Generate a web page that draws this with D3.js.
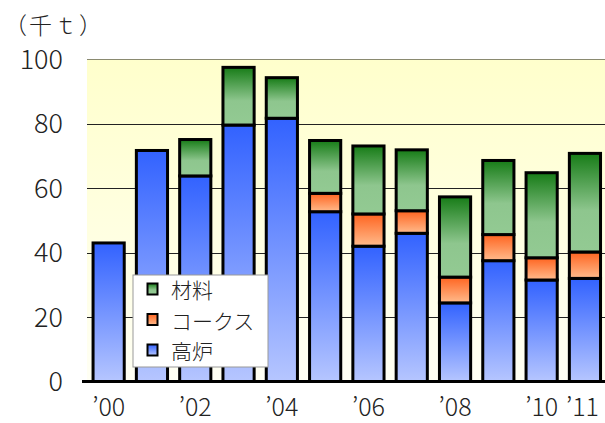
<!DOCTYPE html>
<html>
<head>
<meta charset="utf-8">
<script src="https://cdn.jsdelivr.net/npm/d3@7"></script>
<style>
  html, body { margin: 0; padding: 0; background: #fff; }
  svg { display: block; font-family: "Noto Sans CJK JP", "Noto Sans", sans-serif; font-weight: 300; }
</style>
</head>
<body>
<svg id="chart" width="605" height="423"></svg>
<script>
// Production by use, thousand tonnes
const years = ["2000","2001","2002","2003","2004","2005","2006","2007","2008","2009","2010","2011"];
const blastFurnace = [43, 71.7, 63.8, 79.6, 81.7, 52.7, 42, 46, 24.4, 37.5, 31.5, 32];   // 高炉
const coke         = [0, 0, 0, 0, 0, 5.7, 10, 7, 8, 8.1, 6.9, 8.2];                    // コークス
const material     = [0, 0, 11.3, 17.9, 12.6, 16.4, 21.1, 18.9, 24.9, 23, 26.4, 30.6]; // 材料
const xTickLabels  = ["’00","’02","’04","’06","’08","’10","’11"];
const xTickYears   = ["2000","2002","2004","2006","2008","2010","2011"];
const yTicks       = [0, 20, 40, 60, 80, 100];
const seriesNames  = ["材料", "コークス", "高炉"];

const svg = d3.select("#chart");
const W = 605;
const plotLeft = 87, plotRight = 606.6, plotTop = 59.3, plotBottom = 381.5;

const x = d3.scaleBand().domain(years).range([plotLeft, plotRight]).paddingInner(0.28).paddingOuter(0.14);
const y = d3.scaleLinear().domain([0, 100]).range([plotBottom, plotTop]);

const defs = svg.append("defs");
function vGrad(id, stops) {
  const g = defs.append("linearGradient").attr("id", id)
    .attr("x1", 0).attr("y1", 0).attr("x2", 0).attr("y2", 1);
  stops.forEach(([o, c]) => g.append("stop").attr("offset", o).attr("stop-color", c));
}
vGrad("bg", [[0, "#ffffcc"], [1, "#fffff4"]]);
vGrad("gBlue", [[0, "#3262ff"], [1, "#b6c6ff"]]);
vGrad("gOrange", [[0, "#ff6420"], [1, "#ffbb8c"]]);
vGrad("gGreen", [[0, "#177c17"], [0.58, "#8ec68e"], [1, "#93ca93"]]);

// plot background
svg.append("rect").attr("x", plotLeft).attr("y", plotTop)
  .attr("width", W - plotLeft).attr("height", plotBottom - plotTop).attr("fill", "url(#bg)");

// gridlines
svg.append("g").selectAll("line").data(yTicks.filter(d => d > 0)).join("line")
  .attr("x1", plotLeft).attr("x2", W)
  .attr("y1", d => Math.round(y(d)) + 0.5).attr("y2", d => Math.round(y(d)) + 0.5)
  .attr("stroke", d => d === 100 ? "#8a8a70" : "#222").attr("stroke-width", 1.2);

// y labels
svg.append("g").selectAll("text").data(yTicks).join("text")
  .attr("x", 63).attr("y", d => y(d) - 2)
  .attr("text-anchor", "end").attr("dominant-baseline", "central")
  .attr("font-size", 27).attr("fill", "#222")
  .text(d => d);

// unit label
svg.append("text").attr("x", 4).attr("y", 34).attr("font-size", 23)
  .attr("letter-spacing", 2).attr("fill", "#222")
  .text("（千ｔ）");

// stacked segments
const rows = years.map((yr, i) => ({ year: yr, blast: blastFurnace[i], coke: coke[i], material: material[i] }));
const keys = ["blast", "coke", "material"];
const fills = { blast: "url(#gBlue)", coke: "url(#gOrange)", material: "url(#gGreen)" };
const stacked = d3.stack().keys(keys)(rows);

const barG = svg.append("g");
stacked.forEach(layer => {
  barG.append("g").selectAll("rect")
    .data(layer.filter(d => d[1] - d[0] > 0))
    .join("rect")
    .attr("x", d => x(d.data.year))
    .attr("width", x.bandwidth())
    .attr("y", d => y(d[1]))
    .attr("height", d => y(d[0]) - y(d[1]))
    .attr("fill", fills[layer.key])
    .attr("stroke", "#000").attr("stroke-width", 3);
});

// baseline
svg.append("line").attr("x1", 82).attr("x2", W)
  .attr("y1", plotBottom).attr("y2", plotBottom)
  .attr("stroke", "#000").attr("stroke-width", 3);

// x labels, centred under their bars but kept inside the right edge
svg.append("g").selectAll("text").data(xTickYears).join("text")
  .attr("y", 416)
  .attr("text-anchor", "middle").attr("font-size", 25).attr("fill", "#222")
  .text((d, i) => xTickLabels[i])
  .attr("x", function (d) {
    const cx = x(d) + x.bandwidth() / 2;
    const half = this.getComputedTextLength() / 2;
    return Math.min(cx, W - 6 - half);
  });

// legend
const lg = svg.append("g").attr("transform", "translate(133,275)");
lg.append("rect").attr("x", 0).attr("y", 0).attr("width", 135).attr("height", 92)
  .attr("fill", "#fff").attr("stroke", "#999").attr("stroke-width", 1);
const legFills = ["url(#gGreen)", "url(#gOrange)", "url(#gBlue)"];
seriesNames.forEach((name, i) => {
  const cy = 14 + i * 30.5;
  lg.append("rect").attr("x", 14.5).attr("y", cy - 5.5).attr("width", 10).attr("height", 11)
    .attr("fill", legFills[i]).attr("stroke", "#000").attr("stroke-width", 2);
  lg.append("text").attr("x", 38).attr("y", cy).attr("dominant-baseline", "central")
    .attr("font-size", 21).attr("fill", "#222").text(name);
});
</script>
</body>
</html>
